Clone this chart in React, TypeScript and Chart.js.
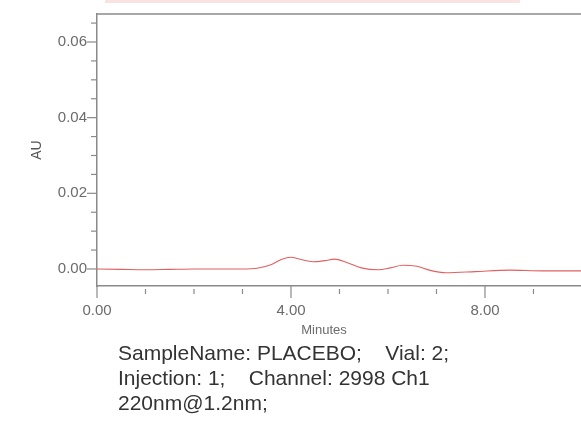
import React, { useEffect, useRef } from "react";
import { Chart, registerables } from "chart.js";

Chart.register(...registerables);

const minutes = [0, 0.5, 1, 1.5, 2, 2.5, 3, 3.3, 3.6, 3.8, 4.0, 4.2, 4.45, 4.7, 4.9, 5.15, 5.45, 5.8, 6.05, 6.3, 6.6, 6.85, 7.2, 7.8, 8.5, 9.2, 10];
const au = [0, -0.0001, -0.0002, -0.0001, 0, 0, 0, 0.0002, 0.0012, 0.0025, 0.0031, 0.0025, 0.0019, 0.0022, 0.0026, 0.0017, 0.0003, -0.0002, 0.0003, 0.001, 0.0007, -0.0003, -0.001, -0.0007, -0.0003, -0.0005, -0.0005];
const yTickValues = [-0.005, 0, 0.005, 0.01, 0.015, 0.02, 0.025, 0.03, 0.035, 0.04, 0.045, 0.05, 0.055, 0.06, 0.065];
const yMajorTicks = [0, 0.02, 0.04, 0.06];
const xTickValues = [0, 1, 2, 3, 4, 5, 6, 7, 8, 9, 10];
const xMajorTicks = [0, 4, 8];
const xTitle = "Minutes";
const infoLines = ["SampleName: PLACEBO;    Vial: 2;", "Injection: 1;    Channel: 2998 Ch1", "220nm@1.2nm;"];

const FONT = "'Liberation Sans', Arial, sans-serif";
const isMajor = (v: number, list: number[]) => list.some((m) => Math.abs(m - v) < 1e-9);

const tickPlugin = {
  id: "tickMarks",
  afterDraw(chart: any) {
    const { ctx, chartArea } = chart;
    const y = chart.scales.y;
    const x = chart.scales.x;
    ctx.save();
    ctx.strokeStyle = "#8a8a8a";
    ctx.lineWidth = 1.5;
    ctx.beginPath();
    ctx.moveTo(chartArea.left, chartArea.top);
    ctx.lineTo(chartArea.right, chartArea.top);
    ctx.stroke();
    ctx.lineWidth = 1.2;
    for (const v of yTickValues) {
      const py = y.getPixelForValue(v);
      if (py < chartArea.top - 6 || py > chartArea.bottom + 0.5) continue;
      const len = isMajor(v, yMajorTicks) ? 10 : 6;
      ctx.beginPath();
      ctx.moveTo(chartArea.left - len, py);
      ctx.lineTo(chartArea.left, py);
      ctx.stroke();
    }
    for (const v of xTickValues) {
      const px = x.getPixelForValue(v);
      if (px > chartArea.right) continue;
      const major = isMajor(v, xMajorTicks);
      ctx.beginPath();
      ctx.moveTo(px, chartArea.bottom + (major ? 0 : 3));
      ctx.lineTo(px, chartArea.bottom + (major ? 12 : 8));
      ctx.stroke();
    }
    ctx.fillStyle = "#6b6b6b";
    ctx.font = `13px ${FONT}`;
    ctx.textAlign = "center";
    ctx.textBaseline = "middle";
    ctx.fillText(xTitle, 324, chartArea.bottom + 44);
    ctx.restore();
  },
};

export default function App() {
  const ref = useRef<HTMLCanvasElement>(null);
  useEffect(() => {
    if (!ref.current) return;
    const chart = new Chart(ref.current, {
      type: "line",
      data: {
        datasets: [
          {
            data: minutes.map((m, i) => ({ x: m, y: au[i] })),
            borderColor: "#e26060",
            borderWidth: 1.1,
            pointRadius: 0,
            cubicInterpolationMode: "monotone",
            fill: false,
          },
        ],
      },
      options: {
        animation: false,
        responsive: false,
        maintainAspectRatio: false,
        layout: { padding: { top: 14, left: 0, right: 0, bottom: 0 } },
        plugins: { legend: { display: false }, tooltip: { enabled: false } },
        scales: {
          x: {
            type: "linear",
            min: 0,
            max: 9.98,
            afterFit: (s: any) => {
              s.height = 59;
            },
            afterBuildTicks: (s: any) => {
              s.ticks = xMajorTicks.map((v) => ({ value: v }));
            },
            grid: { display: false },
            border: { display: true, color: "#8a8a8a", width: 1.5 },
            ticks: {
              padding: 8,
              color: "#6b6b6b",
              font: { family: FONT, size: 15 },
              callback: (v: any) => Number(v).toFixed(2),
              maxRotation: 0,
              autoSkip: false,
            },
          },
          y: {
            type: "linear",
            min: -0.0045,
            max: 0.0674,
            afterFit: (s: any) => {
              s.width = 97;
            },
            afterBuildTicks: (s: any) => {
              s.ticks = yMajorTicks.map((v) => ({ value: v }));
            },
            grid: { display: false },
            border: { display: true, color: "#8a8a8a", width: 1.5 },
            ticks: {
              padding: 2,
              color: "#6b6b6b",
              font: { family: FONT, size: 15 },
              callback: (v: any) => Number(v).toFixed(2),
              autoSkip: false,
            },
            title: {
              display: true,
              text: "AU",
              color: "#555",
              font: { family: FONT, size: 14 },
              padding: { top: 29, bottom: 0 },
            },
          },
        },
      },
      plugins: [tickPlugin],
    } as any);
    return () => chart.destroy();
  }, []);

  return (
    <div style={{ position: "absolute", left: 0, top: 0, width: 581, height: 446, background: "#fff", overflow: "hidden" }}>
      <div style={{ position: "absolute", left: 105, top: 0, width: 415, height: 3, background: "#fbe3e3" }} />
      <canvas ref={ref} width={581} height={345} style={{ position: "absolute", left: 0, top: 0, width: 581, height: 345 }} />
      <div
        style={{
          position: "absolute",
          left: 118,
          top: 340,
          fontFamily: FONT,
          fontSize: 21,
          lineHeight: "25px",
          color: "#333",
          whiteSpace: "pre",
        }}
      >
        {infoLines.map((l, i) => (
          <div key={i}>{l}</div>
        ))}
      </div>
    </div>
  );
}
